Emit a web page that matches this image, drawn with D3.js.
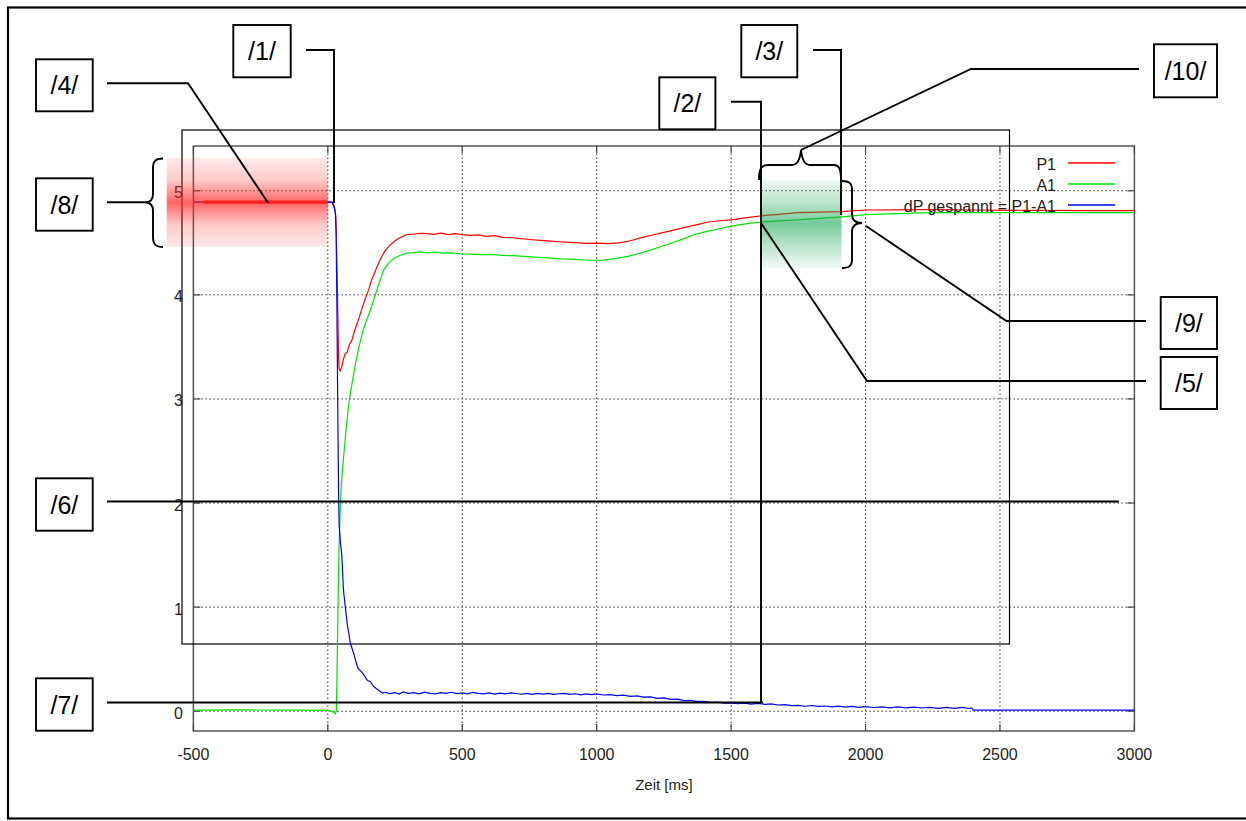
<!DOCTYPE html>
<html>
<head>
<meta charset="utf-8">
<script src="https://cdn.jsdelivr.net/npm/d3@7"></script>
<style>
  body { margin: 0; background: #fff; }
  text { font-family: "Liberation Sans", Arial, sans-serif; }
</style>
</head>
<body>
<script>
// x ticks (ms) and y ticks
const xTicks = [-500, 0, 500, 1000, 1500, 2000, 2500, 3000];
const yTicks = [0, 1, 2, 3, 4, 5];

// P1 [t, value]
const p1 = [
  [-500, 4.89], [0, 4.89], [16, 4.89], [26, 4.82], [30, 4.75], [36, 4.0], [40, 3.4], [42, 3.29],
  [46, 3.27], [52, 3.31], [58, 3.38], [64, 3.43], [72, 3.45], [80, 3.52], [89, 3.56], [100, 3.66],
  [114, 3.76], [126, 3.86], [139, 3.96], [152, 4.05], [164, 4.15], [180, 4.25], [195, 4.34],
  [212, 4.42], [232, 4.48], [250, 4.52], [269, 4.55], [294, 4.58], [320, 4.584], [345, 4.592],
  [369, 4.588], [395, 4.581], [420, 4.592], [450, 4.579], [475, 4.588], [500, 4.578], [530, 4.571],
  [560, 4.577], [590, 4.562], [620, 4.569], [650, 4.553], [680, 4.551], [710, 4.543], [750, 4.532],
  [790, 4.524], [830, 4.517], [870, 4.508], [918, 4.501], [960, 4.494], [1000, 4.496], [1040, 4.493],
  [1083, 4.50], [1125, 4.52], [1166, 4.55], [1208, 4.575], [1250, 4.60], [1290, 4.625], [1332, 4.65],
  [1375, 4.675], [1415, 4.70], [1460, 4.712], [1500, 4.72], [1560, 4.742], [1614, 4.76], [1680, 4.774],
  [1747, 4.79], [1830, 4.795], [1914, 4.80], [2000, 4.815], [2120, 4.816], [2246, 4.82], [2400, 4.815],
  [2600, 4.812], [2800, 4.81], [3000, 4.81]
];

// A1 [t, value]
const a1 = [
  [-500, 0.01], [-300, 0.012], [-100, 0.01], [0, 0.008], [16, 0.0], [28, -0.025], [32, 0.0],
  [35, 0.52], [38, 1.0], [41, 1.5], [45, 1.85], [50, 2.16], [55, 2.33], [60, 2.48], [66, 2.65],
  [72, 2.81], [78, 2.95], [85, 3.07], [94, 3.21], [103, 3.34], [115, 3.49], [128, 3.63], [143, 3.75],
  [159, 3.86], [172, 3.96], [184, 4.06], [196, 4.15], [208, 4.24], [225, 4.30], [245, 4.35],
  [270, 4.38], [294, 4.40], [320, 4.406], [344, 4.413], [370, 4.404], [400, 4.411], [430, 4.401],
  [460, 4.404], [493, 4.395], [530, 4.391], [570, 4.386], [610, 4.388], [650, 4.379], [690, 4.376],
  [730, 4.37], [770, 4.362], [820, 4.356], [870, 4.346], [918, 4.34], [960, 4.335], [1012, 4.33],
  [1060, 4.345], [1116, 4.37], [1160, 4.40], [1200, 4.43], [1240, 4.465], [1282, 4.50], [1325, 4.54],
  [1365, 4.58], [1410, 4.61], [1449, 4.63], [1500, 4.66], [1560, 4.685], [1614, 4.70], [1680, 4.71],
  [1747, 4.72], [1830, 4.735], [1914, 4.75], [2000, 4.77], [2120, 4.78], [2246, 4.79], [2400, 4.79],
  [2600, 4.79], [2800, 4.79], [3000, 4.79]
];

// dP gespannt = P1-A1 [t, value]
const dp = [
  [-500, 4.89], [0, 4.89], [16, 4.89], [24, 4.85], [28, 4.78], [31, 4.6], [34, 3.8], [37, 2.9],
  [40, 2.1], [42, 1.79], [47, 1.62], [52, 1.50], [58, 1.17], [65, 1.0], [72, 0.84], [84, 0.65],
  [97, 0.55], [105, 0.47], [113, 0.41], [125, 0.38], [134, 0.35], [146, 0.30], [159, 0.28],
  [170, 0.24], [179, 0.22], [190, 0.20], [203, 0.175], [215, 0.182], [230, 0.17], [250, 0.178],
  [265, 0.165], [280, 0.185], [300, 0.172], [320, 0.178], [340, 0.166], [360, 0.183], [380, 0.171],
  [400, 0.166], [420, 0.178], [440, 0.171], [460, 0.182], [480, 0.17], [500, 0.176], [520, 0.166],
  [540, 0.181], [560, 0.172], [580, 0.167], [600, 0.177], [620, 0.164], [640, 0.173], [660, 0.166],
  [680, 0.176], [700, 0.17], [720, 0.163], [740, 0.171], [760, 0.162], [780, 0.172], [800, 0.165],
  [820, 0.171], [840, 0.161], [860, 0.168], [880, 0.172], [900, 0.162], [920, 0.168], [940, 0.158],
  [960, 0.167], [980, 0.16], [1000, 0.166], [1025, 0.156], [1050, 0.16], [1075, 0.15], [1100, 0.155],
  [1125, 0.143], [1150, 0.148], [1175, 0.136], [1200, 0.138], [1225, 0.124], [1250, 0.128],
  [1275, 0.114], [1300, 0.116], [1325, 0.102], [1350, 0.104], [1370, 0.094], [1400, 0.096],
  [1425, 0.084], [1450, 0.088], [1475, 0.077], [1500, 0.08], [1525, 0.072], [1550, 0.077],
  [1575, 0.068], [1600, 0.076], [1625, 0.066], [1650, 0.07], [1675, 0.06], [1700, 0.064],
  [1725, 0.053], [1750, 0.057], [1775, 0.048], [1800, 0.055], [1825, 0.046], [1850, 0.05],
  [1875, 0.041], [1900, 0.049], [1925, 0.04], [1950, 0.046], [1975, 0.037], [2000, 0.045],
  [2030, 0.036], [2060, 0.042], [2090, 0.033], [2120, 0.041], [2150, 0.032], [2180, 0.04],
  [2210, 0.031], [2240, 0.037], [2270, 0.027], [2300, 0.036], [2330, 0.027], [2360, 0.036],
  [2385, 0.026], [2395, 0.031], [2400, 0.01], [2600, 0.01], [2800, 0.01], [3000, 0.01]
];

const seriesNames = ["P1", "A1", "dP gespannt = P1-A1"];
const seriesColors = ["#ff0000", "#00e400", "#0000ff"];

// annotation labels
const calloutLabels = ["/1/", "/2/", "/3/", "/4/", "/5/", "/6/", "/7/", "/8/", "/9/", "/10/"];

const width = 1246;
const height = 821;
const font = '"Liberation Sans", Arial, sans-serif';

const svg = d3.select("body").append("svg")
  .attr("width", width)
  .attr("height", height);

const x = d3.scaleLinear().domain([-500, 3000]).range([193.4, 1134.4]);
const y = d3.scaleLinear().domain([-0.19, 5.43]).range([731, 146]);

// gradients for the highlight bands
const defs = svg.append("defs");
function band(id, color, stops) {
  const g = defs.append("linearGradient").attr("id", id)
    .attr("x1", 0).attr("y1", 0).attr("x2", 0).attr("y2", 1);
  stops.forEach(s => g.append("stop")
    .attr("offset", s[0]).attr("stop-color", color).attr("stop-opacity", s[1]));
}
band("pinkBand", "#ff2a2a", [[0, 0.1], [0.25, 0.25], [0.5, 0.72], [0.75, 0.25], [1, 0.1]]);
band("greenBand", "#1fa85a", [[0, 0.07], [0.25, 0.3], [0.5, 0.62], [0.75, 0.3], [1, 0.07]]);

// outer frame
svg.append("rect")
  .attr("x", 8).attr("y", 7.5)
  .attr("width", 1300).attr("height", 811)
  .attr("fill", "none").attr("stroke", "#000").attr("stroke-width", 2.2);

// grid
const grid = svg.append("g").attr("stroke", "#333").attr("stroke-width", 1)
  .attr("stroke-dasharray", "1.5,2.5");
grid.selectAll(".gx").data(xTicks).enter().append("line")
  .attr("x1", d => x(d)).attr("x2", d => x(d))
  .attr("y1", y.range()[0]).attr("y2", y.range()[1]);
grid.selectAll(".gy").data(yTicks).enter().append("line")
  .attr("x1", x.range()[0]).attr("x2", x.range()[1])
  .attr("y1", d => y(d)).attr("y2", d => y(d));

// plot border + inward ticks
svg.append("rect")
  .attr("x", x.range()[0]).attr("y", y.range()[1])
  .attr("width", x.range()[1] - x.range()[0])
  .attr("height", y.range()[0] - y.range()[1])
  .attr("fill", "none").attr("stroke", "#555").attr("stroke-width", 1.5);

const ticks = svg.append("g").attr("stroke", "#444").attr("stroke-width", 1.2);
xTicks.forEach(t => {
  ticks.append("line").attr("x1", x(t)).attr("x2", x(t)).attr("y1", y.range()[0]).attr("y2", y.range()[0] - 7);
  ticks.append("line").attr("x1", x(t)).attr("x2", x(t)).attr("y1", y.range()[1]).attr("y2", y.range()[1] + 7);
});
yTicks.forEach(t => {
  ticks.append("line").attr("x1", x.range()[0]).attr("x2", x.range()[0] + 7).attr("y1", y(t)).attr("y2", y(t));
  ticks.append("line").attr("x1", x.range()[1]).attr("x2", x.range()[1] - 7).attr("y1", y(t)).attr("y2", y(t));
});

// tick labels
svg.selectAll(".xl").data(xTicks).enter().append("text")
  .attr("x", d => x(d)).attr("y", 760)
  .attr("text-anchor", "middle")
  .style("font-size", "16px").attr("fill", "#222")
  .text(d => d);
svg.selectAll(".yl").data(yTicks).enter().append("text")
  .attr("x", 183).attr("y", d => y(d) + 7.5)
  .attr("text-anchor", "end")
  .style("font-size", "16px").attr("fill", "#222")
  .text(d => d);

svg.append("text")
  .attr("x", (x.range()[0] + x.range()[1]) / 2).attr("y", 790)
  .attr("text-anchor", "middle")
  .style("font-size", "15px").attr("fill", "#222")
  .text("Zeit [ms]");

// legend frame (thin black rectangle)
svg.append("rect")
  .attr("x", 182).attr("y", 130)
  .attr("width", 1009.5 - 182).attr("height", 644 - 130)
  .attr("fill", "none").attr("stroke", "#000").attr("stroke-width", 1.2);

// curves
const line = d3.line().x(d => x(d[0])).y(d => y(d[1]));
[p1, a1, dp].forEach((s, i) => {
  svg.append("path")
    .attr("d", line(s))
    .attr("fill", "none")
    .attr("stroke", seriesColors[i])
    .attr("stroke-width", 1.2);
});

// legend
seriesNames.forEach((name, i) => {
  const ly = 163 + i * 21;
  svg.append("text")
    .attr("x", 1056).attr("y", ly + 7)
    .attr("text-anchor", "end")
    .style("font-size", "16px").attr("fill", "#222")
    .text(name);
  svg.append("line")
    .attr("x1", 1068).attr("x2", 1115)
    .attr("y1", ly).attr("y2", ly)
    .attr("stroke", seriesColors[i]).attr("stroke-width", 1.4);
});

// highlighted steady state before switching
svg.append("line")
  .attr("x1", x(-462)).attr("x2", x(0))
  .attr("y1", y(4.89)).attr("y2", y(4.89))
  .attr("stroke", "#ff0000").attr("stroke-width", 3.2);

// bands
svg.append("rect")
  .attr("x", 166.7).attr("y", 158)
  .attr("width", x(0) - 166.7).attr("height", 89)
  .attr("fill", "url(#pinkBand)");
svg.append("rect")
  .attr("x", 760).attr("y", 180)
  .attr("width", 81.5).attr("height", 88)
  .attr("fill", "url(#greenBand)");

// callout leaders and braces
const leaders = [
  "M306,50 H334 V203",                       // /1/
  "M731,101.7 H761 V703",                    // /2/
  "M813,50 H841 V215",                       // /3/
  "M107,83.3 H188 L268,202.7",               // /4/
  "M1146,381 H867 L761,223",                 // /5/
  "M107,501.5 H1119",                        // /6/
  "M107,702.5 H763",                         // /7/
  "M107,202.3 H145",                         // /8/
  "M866,226 L1006.5,321 H1146",              // /9/
  "M1139,69 H971 L801,150",                  // /10/
  // braces
  "M163,158.5 C156,158.5 153,160.5 153,168 L153,194 C153,200 150,202.3 145,202.3 C150,202.3 153,205 153,211 L153,237 C153,244.5 156,247 163,247",
  "M759,180 C759,169 761,165 768,165 L792,165 C797,165 800,160 801,150 C802,160 805,165 810,165 L834,165 C839,165 841,169 841,180",
  "M842,181 C849,181 852,183 852,190 L852,214 C852,220 856,223 862,223 C856,223 852,226 852,232 L852,259 C852,266 849,268 842,268"
];
svg.append("g")
  .selectAll("path").data(leaders).enter().append("path")
  .attr("d", d => d)
  .attr("fill", "none")
  .attr("stroke", "#000")
  .attr("stroke-width", 1.9);

// callout boxes: [x0, y0, x1, y1] in label order
const boxes = [
  [233.3, 25, 290.7, 77.3],
  [659.3, 77.3, 715.4, 129.3],
  [741.3, 25, 797.3, 77.3],
  [36, 59.3, 92.7, 111.3],
  [1160.7, 357, 1217, 409],
  [36, 478.3, 92.7, 530.7],
  [36, 678.3, 92.7, 730.7],
  [36, 178.3, 92.7, 230.7],
  [1160.7, 297, 1217, 349],
  [1154, 44.3, 1217, 97.3]
];
const callouts = svg.append("g").selectAll("g")
  .data(calloutLabels).enter().append("g");
callouts.append("rect")
  .attr("x", (d, i) => boxes[i][0]).attr("y", (d, i) => boxes[i][1])
  .attr("width", (d, i) => boxes[i][2] - boxes[i][0])
  .attr("height", (d, i) => boxes[i][3] - boxes[i][1])
  .attr("fill", "#fff").attr("stroke", "#000").attr("stroke-width", 1.9);
callouts.append("text")
  .attr("x", (d, i) => (boxes[i][0] + boxes[i][2]) / 2)
  .attr("y", (d, i) => (boxes[i][1] + boxes[i][3]) / 2 + 9)
  .attr("text-anchor", "middle")
  .style("font-size", "25px").attr("fill", "#000")
  .text(d => d);
</script>
</body>
</html>
